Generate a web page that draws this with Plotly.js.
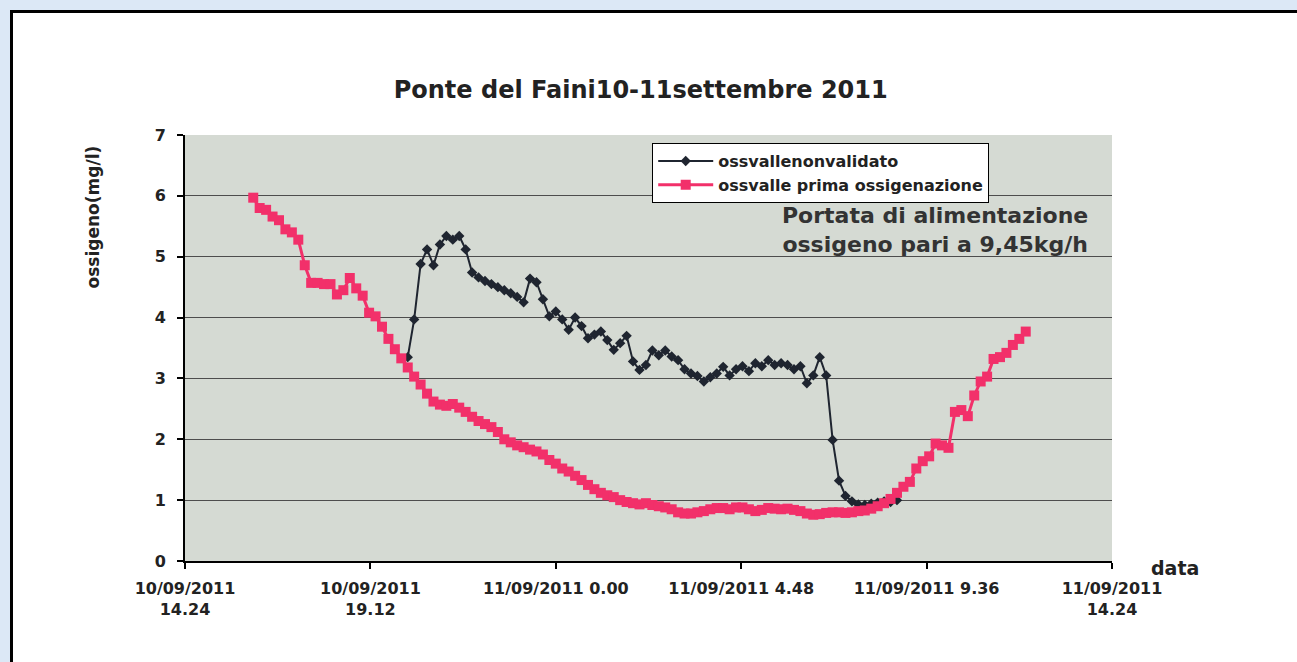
<!DOCTYPE html>
<html><head><meta charset="utf-8">
<script src="https://cdn.plot.ly/plotly-3.0.1.min.js"></script>
<style>
html,body{margin:0;padding:0;background:#dce8f6;width:1297px;height:662px;overflow:hidden}
#frame{position:absolute;left:10px;top:10px;width:1300px;height:670px;background:#fff;border:3px solid #000;box-sizing:border-box}
#chart{position:absolute;left:0;top:0;width:1297px;height:662px}
</style></head><body><div id="frame"></div><div id="chart"></div>
<script>
const chartTitle = "Ponte del Faini10-11settembre 2011";
const yTitle = "ossigeno(mg/l)";
const xTitle = "data";
const noteText = "Portata di alimentazione<br>ossigeno pari a 9,45kg/h";
const seriesNames = ["ossvallenonvalidato", "ossvalle prima ossigenazione"];

const tickVals = ["2011-09-10 14:24","2011-09-10 19:12","2011-09-11 00:00","2011-09-11 04:48","2011-09-11 09:36","2011-09-11 14:24"];
const tickText = ["10/09/2011<br>14.24","10/09/2011<br>19.12","11/09/2011 0.00","11/09/2011 4.48","11/09/2011 9.36","11/09/2011<br>14.24"];

const pinkTime = [
"2011-09-10 16:10","2011-09-10 16:20","2011-09-10 16:30","2011-09-10 16:40","2011-09-10 16:50",
"2011-09-10 17:00","2011-09-10 17:10","2011-09-10 17:20","2011-09-10 17:30","2011-09-10 17:40","2011-09-10 17:50",
"2011-09-10 18:00","2011-09-10 18:10","2011-09-10 18:20","2011-09-10 18:30","2011-09-10 18:40","2011-09-10 18:50",
"2011-09-10 19:00","2011-09-10 19:10","2011-09-10 19:20","2011-09-10 19:30","2011-09-10 19:40","2011-09-10 19:50",
"2011-09-10 20:00","2011-09-10 20:10","2011-09-10 20:20","2011-09-10 20:30","2011-09-10 20:40","2011-09-10 20:50",
"2011-09-10 21:00","2011-09-10 21:10","2011-09-10 21:20","2011-09-10 21:30","2011-09-10 21:40","2011-09-10 21:50",
"2011-09-10 22:00","2011-09-10 22:10","2011-09-10 22:20","2011-09-10 22:30","2011-09-10 22:40","2011-09-10 22:50",
"2011-09-10 23:00","2011-09-10 23:10","2011-09-10 23:20","2011-09-10 23:30","2011-09-10 23:40","2011-09-10 23:50",
"2011-09-11 00:00","2011-09-11 00:10","2011-09-11 00:20","2011-09-11 00:30","2011-09-11 00:40","2011-09-11 00:50",
"2011-09-11 01:00","2011-09-11 01:10","2011-09-11 01:20","2011-09-11 01:30","2011-09-11 01:40","2011-09-11 01:50",
"2011-09-11 02:00","2011-09-11 02:10","2011-09-11 02:20","2011-09-11 02:30","2011-09-11 02:40","2011-09-11 02:50",
"2011-09-11 03:00","2011-09-11 03:10","2011-09-11 03:20","2011-09-11 03:30","2011-09-11 03:40","2011-09-11 03:50",
"2011-09-11 04:00","2011-09-11 04:10","2011-09-11 04:20","2011-09-11 04:30","2011-09-11 04:40","2011-09-11 04:50",
"2011-09-11 05:00","2011-09-11 05:10","2011-09-11 05:20","2011-09-11 05:30","2011-09-11 05:40","2011-09-11 05:50",
"2011-09-11 06:00","2011-09-11 06:10","2011-09-11 06:20","2011-09-11 06:30","2011-09-11 06:40","2011-09-11 06:50",
"2011-09-11 07:00","2011-09-11 07:10","2011-09-11 07:20","2011-09-11 07:30","2011-09-11 07:40","2011-09-11 07:50",
"2011-09-11 08:00","2011-09-11 08:10","2011-09-11 08:20","2011-09-11 08:30","2011-09-11 08:40","2011-09-11 08:50",
"2011-09-11 09:00","2011-09-11 09:10","2011-09-11 09:20","2011-09-11 09:30","2011-09-11 09:40","2011-09-11 09:50",
"2011-09-11 10:00","2011-09-11 10:10","2011-09-11 10:20","2011-09-11 10:30","2011-09-11 10:40","2011-09-11 10:50",
"2011-09-11 11:00","2011-09-11 11:10","2011-09-11 11:20","2011-09-11 11:30","2011-09-11 11:40","2011-09-11 11:50",
"2011-09-11 12:00","2011-09-11 12:10"];
const pinkVals = [
5.97,5.80,5.77,5.66,5.60,
5.45,5.40,5.28,4.86,4.57,4.57,
4.55,4.55,4.38,4.45,4.65,4.48,
4.36,4.08,4.02,3.85,3.65,3.48,
3.33,3.18,3.03,2.90,2.75,2.62,
2.57,2.55,2.58,2.52,2.45,2.37,
2.30,2.25,2.20,2.12,2.00,1.95,
1.90,1.87,1.83,1.80,1.75,1.66,
1.60,1.52,1.47,1.40,1.33,1.25,
1.18,1.12,1.08,1.05,1.00,0.97,
0.95,0.93,0.95,0.92,0.90,0.88,
0.85,0.80,0.78,0.78,0.80,0.82,
0.85,0.87,0.87,0.85,0.88,0.88,
0.85,0.82,0.84,0.87,0.86,0.85,
0.86,0.84,0.82,0.78,0.76,0.77,
0.79,0.80,0.80,0.79,0.80,0.82,
0.83,0.86,0.90,0.95,1.02,1.12,
1.22,1.30,1.52,1.64,1.72,1.93,
1.90,1.86,2.45,2.48,2.38,2.72,
2.95,3.03,3.32,3.35,3.42,3.55,
3.65,3.77];

const blackTime = [
"2011-09-10 20:10","2011-09-10 20:20","2011-09-10 20:30","2011-09-10 20:40","2011-09-10 20:50",
"2011-09-10 21:00","2011-09-10 21:10","2011-09-10 21:20","2011-09-10 21:30","2011-09-10 21:40","2011-09-10 21:50",
"2011-09-10 22:00","2011-09-10 22:10","2011-09-10 22:20","2011-09-10 22:30","2011-09-10 22:40","2011-09-10 22:50",
"2011-09-10 23:00","2011-09-10 23:10","2011-09-10 23:20","2011-09-10 23:30","2011-09-10 23:40","2011-09-10 23:50",
"2011-09-11 00:00","2011-09-11 00:10","2011-09-11 00:20","2011-09-11 00:30","2011-09-11 00:40","2011-09-11 00:50",
"2011-09-11 01:00","2011-09-11 01:10","2011-09-11 01:20","2011-09-11 01:30","2011-09-11 01:40","2011-09-11 01:50",
"2011-09-11 02:00","2011-09-11 02:10","2011-09-11 02:20","2011-09-11 02:30","2011-09-11 02:40","2011-09-11 02:50",
"2011-09-11 03:00","2011-09-11 03:10","2011-09-11 03:20","2011-09-11 03:30","2011-09-11 03:40","2011-09-11 03:50",
"2011-09-11 04:00","2011-09-11 04:10","2011-09-11 04:20","2011-09-11 04:30","2011-09-11 04:40","2011-09-11 04:50",
"2011-09-11 05:00","2011-09-11 05:10","2011-09-11 05:20","2011-09-11 05:30","2011-09-11 05:40","2011-09-11 05:50",
"2011-09-11 06:00","2011-09-11 06:10","2011-09-11 06:20","2011-09-11 06:30","2011-09-11 06:40","2011-09-11 06:50",
"2011-09-11 07:00","2011-09-11 07:10","2011-09-11 07:20","2011-09-11 07:30","2011-09-11 07:40","2011-09-11 07:50",
"2011-09-11 08:00","2011-09-11 08:10","2011-09-11 08:20","2011-09-11 08:30","2011-09-11 08:40","2011-09-11 08:50"];
const blackVals = [
3.35,3.97,4.88,5.12,4.86,
5.20,5.34,5.28,5.34,5.12,4.74,
4.66,4.60,4.55,4.50,4.45,4.40,
4.34,4.25,4.64,4.58,4.30,4.02,
4.10,3.97,3.80,4.00,3.86,3.66,
3.72,3.77,3.63,3.47,3.58,3.70,
3.28,3.14,3.22,3.46,3.38,3.46,
3.36,3.30,3.15,3.08,3.04,2.95,
3.02,3.08,3.19,3.05,3.15,3.20,
3.12,3.25,3.20,3.30,3.22,3.25,
3.22,3.15,3.20,2.92,3.05,3.35,
3.05,1.99,1.32,1.07,0.98,0.93,
0.92,0.94,0.96,0.98,0.97,1.00];

const FONT = "DejaVu Sans, Arial, sans-serif";
const TXT = "#222";

const traces = [
  {x: blackTime, y: blackVals, name: seriesNames[0], type: "scatter", mode: "lines+markers",
   line: {color: "#1f2530", width: 2}, marker: {symbol: "diamond", size: 8, color: "#1f2530"}},
  {x: pinkTime, y: pinkVals, name: seriesNames[1], type: "scatter", mode: "lines+markers",
   line: {color: "#f2306a", width: 3}, marker: {symbol: "square", size: 10, color: "#f2306a"}}
];

const layout = {
  width: 1297, height: 662,
  margin: {l: 185, r: 185, t: 135, b: 101},
  paper_bgcolor: "rgba(0,0,0,0)",
  plot_bgcolor: "#d5dad3",
  showlegend: true,
  title: {text: chartTitle, x: 0.494, xanchor: "center", y: 0.864, yanchor: "middle", yref: "container",
          font: {family: FONT, size: 24, color: TXT, weight: "bold"}},
  xaxis: {type: "date", range: ["2011-09-10 14:24","2011-09-11 14:24"],
          tickmode: "array", tickvals: tickVals, ticktext: tickText,
          showgrid: false, zeroline: false, showline: true, linecolor: "#000", linewidth: 2,
          ticks: "outside", ticklen: 6, tickwidth: 2, tickcolor: "#000", ticklabelstandoff: 6,
          tickfont: {family: FONT, size: 16, color: TXT, weight: "bold"}},
  yaxis: {range: [0, 7], dtick: 1, tick0: 0, showgrid: true, gridcolor: "#4d4d4d", gridwidth: 1,
          zeroline: false, showline: true, linecolor: "#000", linewidth: 2,
          ticks: "outside", ticklen: 6, tickwidth: 2, tickcolor: "#000", ticklabelstandoff: 8,
          tickfont: {family: FONT, size: 16, color: TXT, weight: "bold"}},
  legend: {x: 0.504, y: 0.981, xanchor: "left", yanchor: "top", bgcolor: "#fff",
           bordercolor: "#000", borderwidth: 1, itemwidth: 55, tracegroupgap: 0,
           font: {family: FONT, size: 16, color: TXT, weight: "bold"}},
  annotations: [
    {text: yTitle, xref: "paper", yref: "paper", x: -0.099, y: 0.807, textangle: -90,
     showarrow: false, xanchor: "center", yanchor: "middle",
     font: {family: FONT, size: 17, color: TXT, weight: "bold"}},
    {text: xTitle, xref: "paper", yref: "paper", x: 1.068, y: -0.016, showarrow: false,
     xanchor: "center", yanchor: "middle", font: {family: FONT, size: 19, color: TXT, weight: "bold"}},
    {text: noteText, xref: "paper", yref: "paper", x: 0.976, y: 0.776, showarrow: false,
     xanchor: "right", yanchor: "middle", align: "center",
     font: {family: FONT, size: 22, color: "#333", weight: "bold"}}
  ]
};

Plotly.newPlot("chart", traces, layout, {displayModeBar: false, responsive: false});
</script></body></html>
